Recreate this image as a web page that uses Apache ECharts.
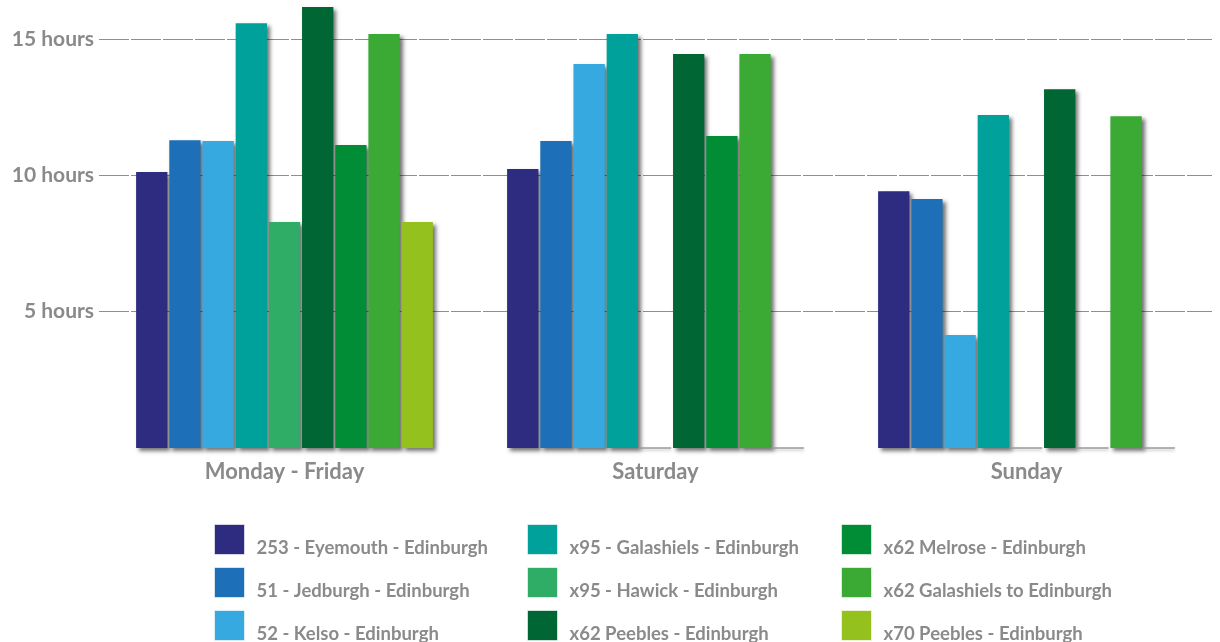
<!DOCTYPE html>
<html>
<head>
<meta charset="utf-8">
<script src="https://cdn.jsdelivr.net/npm/echarts@6/dist/echarts.min.js"></script>
<style>html,body{margin:0;padding:0;background:#fff;}#c{width:1220px;height:642px;}</style>
</head>
<body>
<div id="c"></div>
<script>
const categories = ['Monday - Friday', 'Saturday', 'Sunday'];
const seriesNames = [
  '253 - Eyemouth - Edinburgh',
  '51 - Jedburgh - Edinburgh',
  '52 - Kelso - Edinburgh',
  'x95 - Galashiels - Edinburgh',
  'x95 - Hawick - Edinburgh',
  'x62 Peebles - Edinburgh',
  'x62 Melrose - Edinburgh',
  'x62 Galashiels to Edinburgh',
  'x70 Peebles - Edinburgh'
];
const eyemouth253 = [10.12, 10.23, 9.42];
const jedburgh51 = [11.29, 11.26, 9.13];
const kelso52 = [11.26, 14.08, 4.14];
const galashielsX95 = [15.58, 15.18, 12.21];
const hawickX95 = [8.29, 0, 0];
const peeblesX62 = [16.17, 14.45, 13.16];
const melroseX62 = [11.11, 11.44, 0];
const galashielsX62 = [15.18, 14.45, 12.17];
const peeblesX70 = [8.29, 0, 0];
const yTicks = [5, 10, 15];
const colors = ['#2e2c80', '#1d70b7', '#36a9e1', '#00a19a', '#2fac66', '#006633', '#008d36', '#3aaa35', '#95c11f'];

const allValues = [eyemouth253, jedburgh51, kelso52, galashielsX95, hawickX95, peeblesX62, melroseX62, galashielsX62, peeblesX70];

const series = allValues.map((vals, i) => ({
  name: seriesNames[i],
  type: 'bar',
  barGap: '6%',
  barCategoryGap: '20%',
  itemStyle: {
    color: colors[i],
    shadowColor: 'rgba(0,0,0,0.55)',
    shadowBlur: 4,
    shadowOffsetX: 3,
    shadowOffsetY: 3
  },
  data: vals.map(v => v === 0
    ? { value: 0, itemStyle: { borderColor: '#9a9a9a', borderWidth: 1, shadowBlur: 3, shadowOffsetX: 0, shadowOffsetY: 2, shadowColor: 'rgba(0,0,0,0.25)' } }
    : v)
}));

const FONT = 'Lato, "Open Sans", sans-serif';
const legendText = {
  color: '#8a8a8a',
  fontFamily: FONT,
  fontWeight: 'bold',
  fontSize: 18.5,
  lineHeight: 18,
  padding: [0, 0, 0, 7]
};
const legendBase = (left, names) => ({
  orient: 'vertical',
  left: left,
  top: 521,
  height: 200,
  padding: 0,
  itemWidth: 30,
  itemHeight: 30,
  itemGap: 6,
  icon: 'rect',
  selectedMode: false,
  formatter: name => '\n' + name,
  itemStyle: { shadowBlur: 0, shadowOffsetX: 0, shadowOffsetY: 0, borderColor: 'rgba(255,255,255,0.6)', borderWidth: 1 },
  textStyle: legendText,
  data: names
});

const pxPerHour = 409 / 15;
const yMax = 448 / pxPerHour;

const chart = echarts.init(document.getElementById('c'), null, { renderer: 'canvas' });
chart.setOption({
  animation: false,
  backgroundColor: '#fff',
  grid: { left: 99, right: 8, top: 0, height: 448, containLabel: false },
  legend: [
    legendBase(214, seriesNames.slice(0, 3)),
    legendBase(527, seriesNames.slice(3, 6)),
    legendBase(841, seriesNames.slice(6, 9))
  ],
  xAxis: {
    type: 'category',
    data: categories,
    axisLine: { show: false },
    axisTick: { show: false },
    axisLabel: {
      margin: 13,
      color: '#8a8a8a',
      fontFamily: FONT,
      fontWeight: 'bold',
      fontSize: 22
    }
  },
  yAxis: {
    type: 'value',
    min: 0,
    max: yMax,
    interval: 5,
    axisLine: { show: false },
    axisTick: { show: false },
    axisLabel: {
      margin: 5,
      color: '#8a8a8a',
      fontFamily: FONT,
      fontWeight: 'bold',
      fontSize: 21,
      showMaxLabel: false,
      formatter: v => yTicks.indexOf(v) >= 0 ? v + ' hours' : ''
    },
    splitLine: { showMinLine: false, showMaxLine: false, lineStyle: { color: '#8f8f8f', width: 1, type: [30, 2] } }
  },
  series: series
});
</script>
</body>
</html>
